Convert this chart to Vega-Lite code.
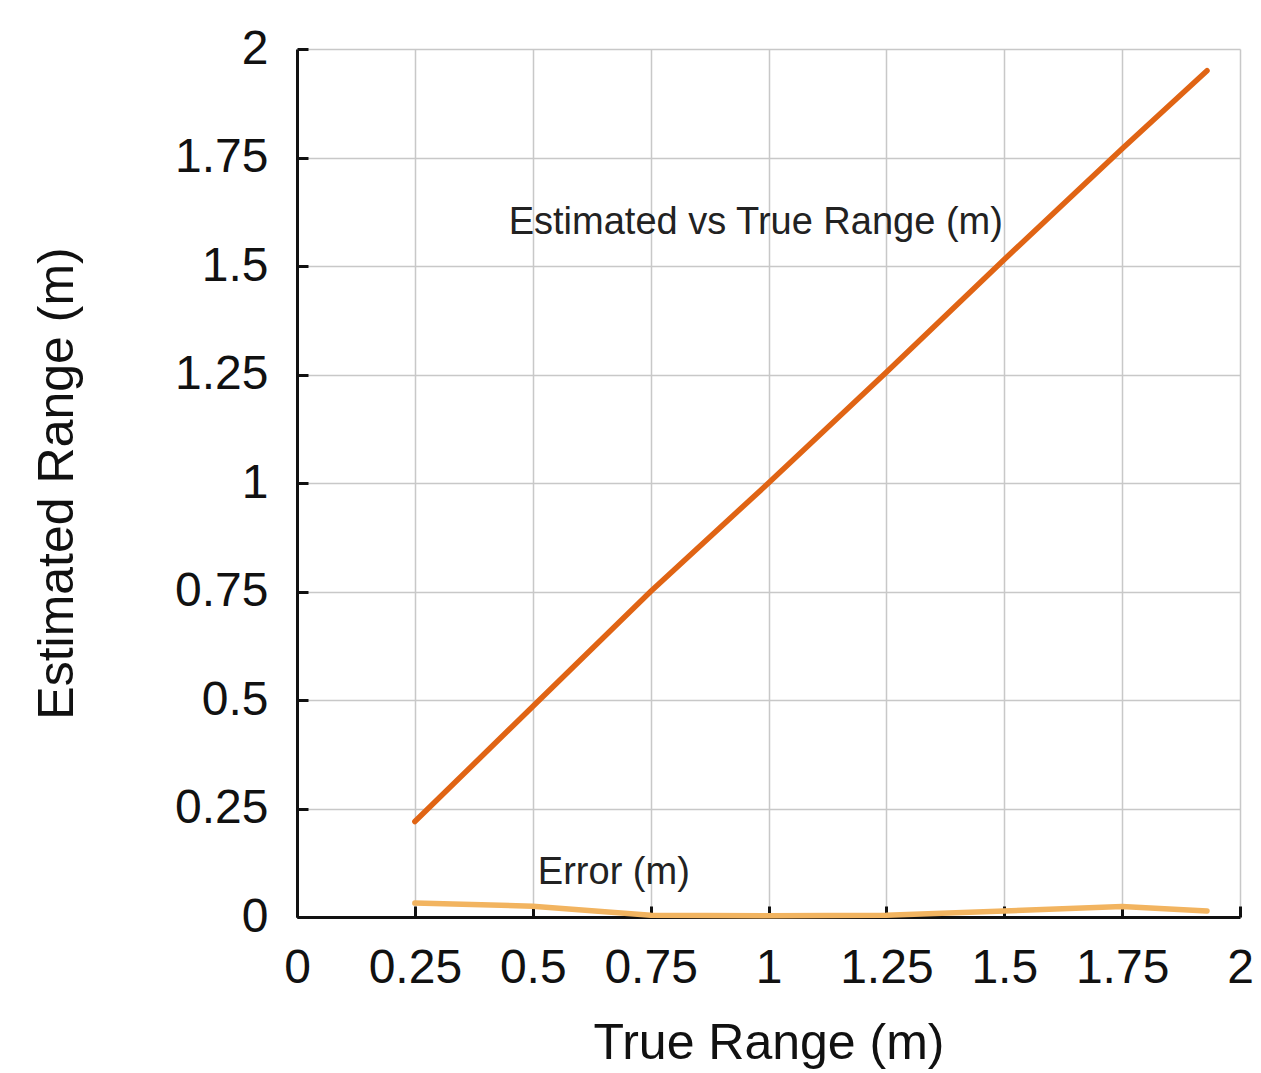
{
  "$schema": "https://vega.github.io/schema/vega-lite/v6.json",
  "width": 943,
  "height": 868,
  "autosize": {"type": "none"},
  "padding": {"left": 297, "top": 49, "right": 21, "bottom": 156},
  "background": "white",
  "config": {
    "view": {"stroke": null},
    "font": "Liberation Sans",
    "axis": {
      "labelFont": "Liberation Sans",
      "titleFont": "Liberation Sans",
      "labelColor": "#111111",
      "titleColor": "#111111",
      "titleFontWeight": "normal",
      "domainColor": "#111111",
      "domainWidth": 3,
      "tickColor": "#111111",
      "tickWidth": 3,
      "tickSize": -11,
      "labelFlush": false,
      "labelOverlap": false,
      "gridColor": "#c8c8c8",
      "gridWidth": 1.5
    }
  },
  "datasets": {
    "lines": [
      {"true_range": 0.25, "value": 0.22, "series": "Estimated"},
      {"true_range": 0.5, "value": 0.485, "series": "Estimated"},
      {"true_range": 0.75, "value": 0.75, "series": "Estimated"},
      {"true_range": 1.0, "value": 1.0, "series": "Estimated"},
      {"true_range": 1.25, "value": 1.255, "series": "Estimated"},
      {"true_range": 1.5, "value": 1.515, "series": "Estimated"},
      {"true_range": 1.75, "value": 1.77, "series": "Estimated"},
      {"true_range": 1.93, "value": 1.95, "series": "Estimated"},
      {"true_range": 0.25, "value": 0.032, "series": "Error"},
      {"true_range": 0.5, "value": 0.025, "series": "Error"},
      {"true_range": 0.75, "value": 0.004, "series": "Error"},
      {"true_range": 1.0, "value": 0.003, "series": "Error"},
      {"true_range": 1.25, "value": 0.004, "series": "Error"},
      {"true_range": 1.5, "value": 0.014, "series": "Error"},
      {"true_range": 1.75, "value": 0.024, "series": "Error"},
      {"true_range": 1.93, "value": 0.014, "series": "Error"}
    ],
    "notes": [
      {"true_range": 0.973, "value": 1.574, "label": "Estimated vs True Range (m)"},
      {"true_range": 0.672, "value": 0.076, "label": "Error (m)"}
    ]
  },
  "layer": [
    {
      "data": {"name": "lines"},
      "mark": {"type": "line", "strokeWidth": 5.5, "strokeCap": "round", "clip": false},
      "encoding": {
        "x": {
          "field": "true_range",
          "type": "quantitative",
          "scale": {"domain": [0, 2], "nice": false, "zero": false},
          "axis": {
            "values": [0, 0.25, 0.5, 0.75, 1, 1.25, 1.5, 1.75, 2],
            "format": ".3~g",
            "labelFontSize": 48,
            "labelPadding": 38,
            "labelDx": 5,
            "title": "True Range (m)",
            "titleFontSize": 50,
            "titlePadding": 26
          }
        },
        "y": {
          "field": "value",
          "type": "quantitative",
          "scale": {"domain": [0, 2], "nice": false},
          "axis": {
            "values": [0, 0.25, 0.5, 0.75, 1, 1.25, 1.5, 1.75, 2],
            "format": ".3~g",
            "labelFontSize": 48,
            "labelPadding": 40,
            "title": "Estimated Range (m)",
            "titleFontSize": 50,
            "titlePadding": 92
          }
        },
        "color": {
          "field": "series",
          "type": "nominal",
          "scale": {"domain": ["Estimated", "Error"], "range": ["#e06414", "#f2b460"]},
          "legend": null
        },
        "order": {"field": "true_range", "type": "quantitative"}
      }
    },
    {
      "data": {"name": "notes"},
      "mark": {"type": "text", "fontSize": 38, "align": "center", "baseline": "alphabetic", "color": "#222222", "font": "Liberation Sans"},
      "encoding": {
        "x": {"field": "true_range", "type": "quantitative"},
        "y": {"field": "value", "type": "quantitative"},
        "text": {"field": "label", "type": "nominal"}
      }
    }
  ]
}
